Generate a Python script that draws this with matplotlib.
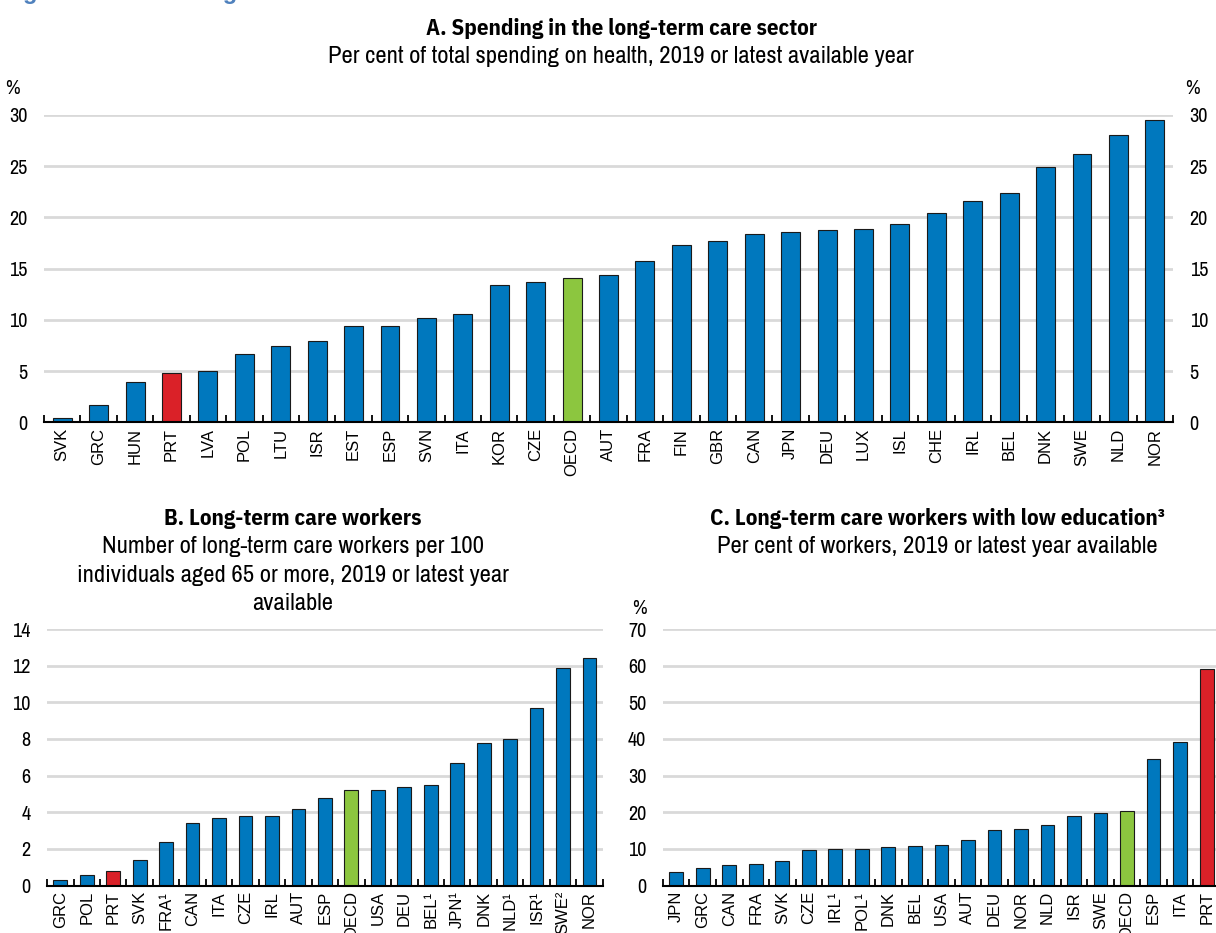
import matplotlib
matplotlib.use("Agg")
import matplotlib.pyplot as plt
import numpy as np

# panel A: spending on long-term care, % of total health spending
a_countries = ["SVK", "GRC", "HUN", "PRT", "LVA", "POL", "LTU", "ISR", "EST", "ESP",
               "SVN", "ITA", "KOR", "CZE", "OECD", "AUT", "FRA", "FIN", "GBR", "CAN",
               "JPN", "DEU", "LUX", "ISL", "CHE", "IRL", "BEL", "DNK", "SWE", "NLD", "NOR"]
a_values = [0.4, 1.7, 3.9, 4.8, 5.0, 6.7, 7.5, 7.9, 9.4, 9.4,
            10.2, 10.6, 13.4, 13.7, 14.1, 14.4, 15.8, 17.3, 17.7, 18.4,
            18.6, 18.8, 18.9, 19.4, 20.4, 21.6, 22.4, 24.9, 26.2, 28.0, 29.5]

# panel B: LTC workers per 100 people aged 65+
b_countries = ["GRC", "POL", "PRT", "SVK", "FRA¹", "CAN", "ITA", "CZE", "IRL", "AUT",
               "ESP", "OECD", "USA", "DEU", "BEL¹", "JPN¹", "DNK", "NLD¹", "ISR¹", "SWE²", "NOR"]
b_values = [0.3, 0.55, 0.8, 1.4, 2.4, 3.4, 3.7, 3.8, 3.8, 4.2,
            4.8, 5.2, 5.2, 5.4, 5.5, 6.7, 7.8, 8.0, 9.7, 11.9, 12.4]

# panel C: LTC workers with low education, % of workers
c_countries = ["JPN", "GRC", "CAN", "FRA", "SVK", "CZE", "IRL¹", "POL¹", "DNK", "BEL",
               "USA", "AUT", "DEU", "NOR", "NLD", "ISR", "SWE", "OECD", "ESP", "ITA", "PRT"]
c_values = [3.6, 4.8, 5.5, 5.9, 6.7, 9.7, 9.9, 10.0, 10.6, 10.7,
            11.1, 12.4, 15.1, 15.3, 16.4, 18.9, 19.7, 20.2, 34.5, 39.3, 59.1]

BLUE = "#0078BE"
RED = "#DA2128"
GREEN = "#8CC63F"
GRID = "#D9D9D9"
NARROW = ["Archivo Narrow", "Liberation Sans", "DejaVu Sans"]
NARROW_B = ["IBM Plex Sans Condensed", "Liberation Sans", "DejaVu Sans"]
SANS = ["Liberation Sans", "DejaVu Sans"]


def colours(names):
    out = []
    for n in names:
        if n.startswith("PRT"):
            out.append(RED)
        elif n.startswith("OECD"):
            out.append(GREEN)
        else:
            out.append(BLUE)
    return out


def draw_panel(ax, names, vals, ymax, step, right_labels=False):
    x = np.arange(len(names))
    ax.bar(x, vals, width=0.52, color=colours(names), edgecolor="#1a1a1a",
           linewidth=0.8, zorder=3)
    ax.set_xlim(-0.5, len(names) - 0.5)
    ax.set_ylim(0, ymax)
    ax.set_yticks(np.arange(0, ymax + 0.01, step))
    ax.yaxis.grid(True, color=GRID, linewidth=2, zorder=0)
    ax.set_axisbelow(True)
    for s in ["top", "left", "right"]:
        ax.spines[s].set_visible(False)
    ax.spines["bottom"].set_linewidth(1.5)
    ax.spines["bottom"].set_zorder(4)
    ax.set_xticks(x)
    ax.set_xticklabels(names, rotation=90, fontsize=12, family=SANS)
    ax.set_xticks(np.arange(len(names) + 1) - 0.5, minor=True)
    ax.tick_params(axis="x", which="major", length=0, pad=4)
    ax.tick_params(axis="x", which="minor", direction="in", length=5, width=1.3)
    ax.tick_params(axis="y", length=0, labelsize=14.5, pad=12,
                   labelright=right_labels)
    for lab in ax.get_yticklabels():
        lab.set_family(NARROW)


fig = plt.figure(figsize=(12.16, 9.33), dpi=100)

# figure title, mostly cut off at the top edge like in the source
fig.text(0.002, 1 + 1.0 / 933, "Figure 1.11. The long-term care sector is under-resourced",
         color="#4F81BD", fontsize=17, fontweight="bold", family=SANS,
         va="baseline", ha="left")

axA = fig.add_axes([0.0362, 0.5472, 0.9285, 0.3296])
draw_panel(axA, a_countries, a_values, 30, 5, right_labels=True)
fig.text(0.511, 1 - 35 / 933, "A. Spending in the long-term care sector", ha="center",
         va="baseline", fontsize=16.5, fontweight="bold", family=NARROW_B)
fig.text(0.511, 1 - 63 / 933, "Per cent of total spending on health, 2019 or latest available year",
         ha="center", va="baseline", fontsize=17.8, family=NARROW)
fig.text(0.010, 1 - 89 / 933, "%", ha="center", va="center", fontsize=14.5, family=NARROW)
fig.text(0.981, 1 - 89 / 933, "%", ha="center", va="center", fontsize=14.5, family=NARROW)

axB = fig.add_axes([0.0387, 0.0509, 0.457, 0.2749])
draw_panel(axB, b_countries, b_values, 14, 2)
fig.text(0.241, 1 - 525 / 933, "B. Long-term care workers", ha="center", va="baseline",
         fontsize=16.5, fontweight="bold", family=NARROW_B)
b_sub = ["Number of long-term care workers per 100",
         "individuals aged 65 or more, 2019 or latest year",
         "available"]
for i, line in enumerate(b_sub):
    fig.text(0.241, 1 - (553 + 28.5 * i) / 933, line, ha="center", va="baseline",
             fontsize=17.8, family=NARROW)

axC = fig.add_axes([0.5452, 0.0509, 0.458, 0.2749])
draw_panel(axC, c_countries, c_values, 70, 10)
fig.text(0.771, 1 - 525 / 933, "C. Long-term care workers with low education³", ha="center",
         va="baseline", fontsize=16.5, fontweight="bold", family=NARROW_B)
fig.text(0.771, 1 - 553 / 933, "Per cent of workers, 2019 or latest year available",
         ha="center", va="baseline", fontsize=17.8, family=NARROW)
fig.text(0.526, 1 - 608 / 933, "%", ha="center", va="center", fontsize=14.5, family=NARROW)

fig.savefig("out.png", dpi=100)
